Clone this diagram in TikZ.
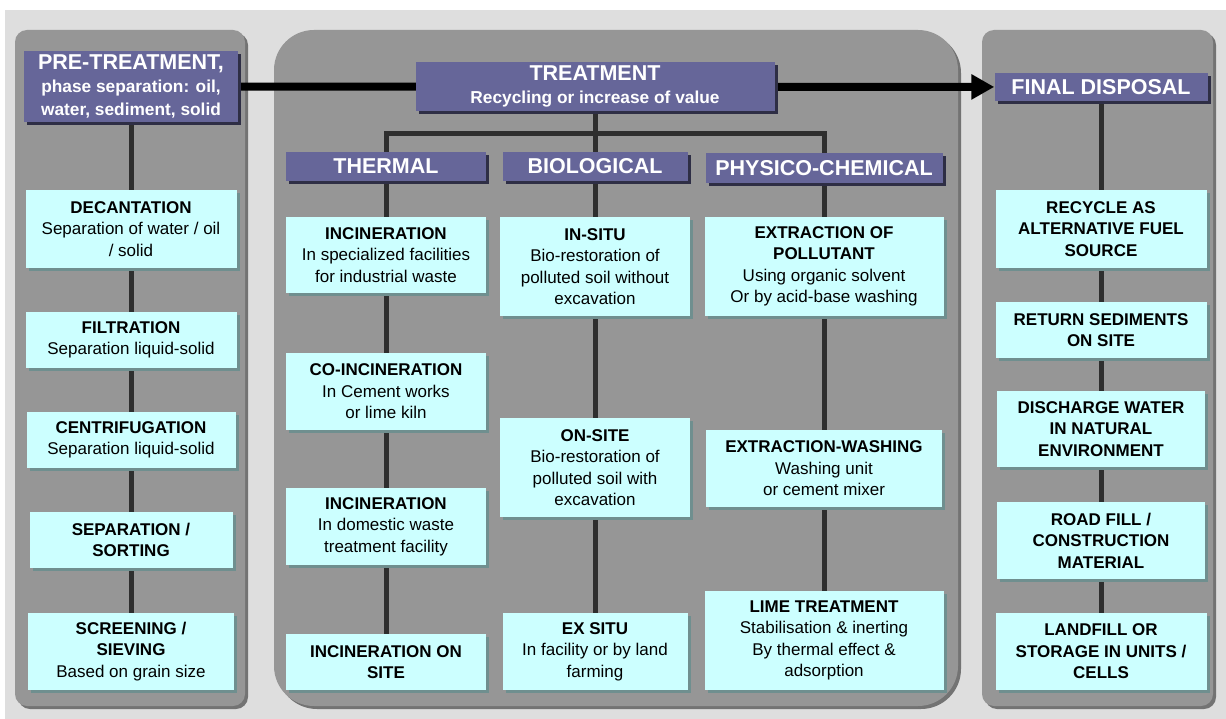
\documentclass[tikz,border=0pt]{standalone}
\usepackage{fontspec}
\setmainfont{Liberation Sans}
\usepackage{xcolor}
\usepackage{tikz}
\usetikzlibrary{arrows.meta,shadows}

\definecolor{pagegray}{HTML}{DEDEDE}
\definecolor{panelgray}{HTML}{969696}
\definecolor{headblue}{HTML}{666699}
\definecolor{boxcyan}{HTML}{CCFFFF}
\definecolor{boxshade}{HTML}{6F8F8F}

\pgfdeclarelayer{panels}
\pgfdeclarelayer{links}
\pgfsetlayers{panels,links,main}

\begin{document}
\begin{tikzpicture}[x=1pt, y=-1pt,
  panel/.style={fill=panelgray, drop shadow={shadow xshift=3pt, shadow yshift=-3pt, fill=black!55, opacity=1}},
  head/.style={fill=headblue, text=white, inner sep=0pt, align=center,
    font=\fontsize{21.5}{22}\selectfont\bfseries,
    drop shadow={shadow xshift=3pt, shadow yshift=-3pt, fill=headblue!45!black, opacity=1}},
  item/.style={fill=boxcyan, inner sep=0pt, align=center,
    font=\fontsize{17}{21.5}\selectfont,
    drop shadow={shadow xshift=3pt, shadow yshift=-3pt, fill=boxshade, opacity=1}},
  link/.style={line width=5pt, draw=black!82},
  bigarrow/.style={line width=8pt, draw=black, -{Triangle[length=23pt,width=24pt]}},
]
\useasboundingbox (0,0) rectangle (1226,719);

\begin{pgfonlayer}{panels}
\fill[pagegray] (5,10) rectangle (1226,719);
\fill[panel, rounded corners=12pt] (15,30) rectangle (245,706);
\fill[panel, rounded corners=40pt] (274,30) rectangle (958,706);
\fill[panel, rounded corners=12pt] (982,30) rectangle (1213,706);
\end{pgfonlayer}

% pre-treatment
\node[head, minimum width=214pt, minimum height=71pt] (pre) at (131,86.5)
  {PRE-TREATMENT,\\[1pt]{\fontsize{17.3}{22}\selectfont phase separation: oil,}\\[1pt]{\fontsize{17.3}{22}\selectfont water, sediment, solid}};
\node[item, minimum width=211pt, minimum height=78pt] (dec) at (131,229)
  {\textbf{DECANTATION}\\Separation of water / oil\\/ solid};
\node[item, minimum width=211pt, minimum height=56pt] (filt) at (131,340)
  {\textbf{FILTRATION}\\Separation liquid-solid};
\node[item, minimum width=209pt, minimum height=56pt] (cent) at (131,440)
  {\textbf{CENTRIFUGATION}\\Separation liquid-solid};
\node[item, minimum width=203pt, minimum height=56pt] (sort) at (131,540)
  {\textbf{SEPARATION /}\\\textbf{SORTING}};
\node[item, minimum width=206pt, minimum height=77pt] (screen) at (131,651.5)
  {\textbf{SCREENING /}\\\textbf{SIEVING}\\Based on grain size};

% treatment
\node[head, minimum width=359pt, minimum height=49pt] (treat) at (595,86.5)
  {TREATMENT\\[1pt]{\fontsize{17.3}{20}\selectfont Recycling or increase of value}};
\coordinate (split) at (595,134);

\node[head, minimum width=200pt, minimum height=29pt] (therm) at (386,166.5) {THERMAL};
\node[item, minimum width=200pt, minimum height=76pt] (inc1) at (386,255)
  {\textbf{INCINERATION}\\In specialized facilities\\for industrial waste};
\node[item, minimum width=200pt, minimum height=77pt] (coinc) at (386,391.5)
  {\textbf{CO-INCINERATION}\\In Cement works\\or lime kiln};
\node[item, minimum width=200pt, minimum height=77pt] (inc2) at (386,526.5)
  {\textbf{INCINERATION}\\In domestic waste\\treatment facility};
\node[item, minimum width=200pt, minimum height=56pt] (inc3) at (386,662)
  {\textbf{INCINERATION ON}\\\textbf{SITE}};

\node[head, minimum width=185pt, minimum height=29pt] (bio) at (595,166.5) {BIOLOGICAL};
\node[item, minimum width=190pt, minimum height=99pt] (insitu) at (595,266.5)
  {\textbf{IN-SITU}\\Bio-restoration of\\polluted soil without\\excavation};
\node[item, minimum width=190pt, minimum height=99pt] (onsite) at (595,467.5)
  {\textbf{ON-SITE}\\Bio-restoration of\\polluted soil with\\excavation};
\node[item, minimum width=185pt, minimum height=77pt] (exsitu) at (595,651.5)
  {\textbf{EX SITU}\\In facility or by land\\farming};

\node[head, minimum width=237pt, minimum height=30pt] (phys) at (824,168) {PHYSICO-CHEMICAL};
\node[item, minimum width=239pt, minimum height=99pt] (extr) at (824,266.5)
  {\textbf{EXTRACTION OF}\\\textbf{POLLUTANT}\\Using organic solvent\\Or by acid-base washing};
\node[item, minimum width=236pt, minimum height=77pt] (wash) at (824,468.5)
  {\textbf{EXTRACTION-WASHING}\\Washing unit\\or cement mixer};
\node[item, minimum width=239pt, minimum height=99pt] (lime) at (824,640.5)
  {\textbf{LIME TREATMENT}\\Stabilisation \& inerting\\By thermal effect \&\\adsorption};

% final disposal
\node[head, minimum width=213pt, minimum height=28pt] (final) at (1101,87) {FINAL DISPOSAL};
\node[item, minimum width=211pt, minimum height=78pt] (recyc) at (1101,229)
  {\textbf{RECYCLE AS}\\\textbf{ALTERNATIVE FUEL}\\\textbf{SOURCE}};
\node[item, minimum width=211pt, minimum height=56pt] (ret) at (1101,330)
  {\textbf{RETURN SEDIMENTS}\\\textbf{ON SITE}};
\node[item, minimum width=208pt, minimum height=76pt] (disch) at (1101,429)
  {\textbf{DISCHARGE WATER}\\\textbf{IN NATURAL}\\\textbf{ENVIRONMENT}};
\node[item, minimum width=208pt, minimum height=77pt] (road) at (1101,540.5)
  {\textbf{ROAD FILL /}\\\textbf{CONSTRUCTION}\\\textbf{MATERIAL}};
\node[item, minimum width=211pt, minimum height=77pt] (landf) at (1101,651.5)
  {\textbf{LANDFILL OR}\\\textbf{STORAGE IN UNITS /}\\\textbf{CELLS}};

\begin{pgfonlayer}{links}
\draw[bigarrow] (pre) -- (final);
\draw[link] (pre) -- (dec) -- (filt) -- (cent) -- (sort) -- (screen);
\draw[link] (treat) -- (bio);
\draw[link] (therm) |- (split) -| (phys);
\draw[link] (therm) -- (inc1) -- (coinc) -- (inc2) -- (inc3);
\draw[link] (bio) -- (insitu) -- (onsite) -- (exsitu);
\draw[link] (phys) -- (extr) -- (wash) -- (lime);
\draw[link] (final) -- (recyc) -- (ret) -- (disch) -- (road) -- (landf);
\end{pgfonlayer}
\end{tikzpicture}
\end{document}
